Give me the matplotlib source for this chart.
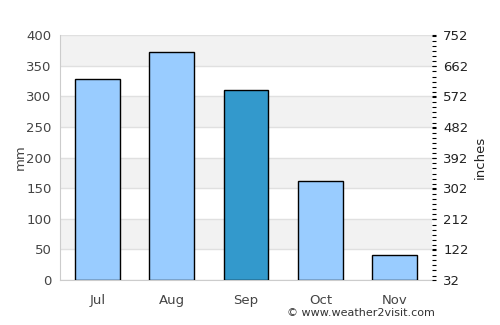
import matplotlib.pyplot as plt
from matplotlib.ticker import MultipleLocator

months = ['Jul', 'Aug', 'Sep', 'Oct', 'Nov']
rain_mm = [328, 372, 311, 161, 40]
highlight = 'Sep'
right_labels = [32, 122, 212, 302, 392, 482, 572, 662, 752]

light = '#99ccff'
dark = '#3399cc'

fig = plt.figure(figsize=(5, 3.25), dpi=100)
ax = fig.add_axes([0.12, 0.1385, 0.744, 0.7535])

# alternating bands + grid
for lo in range(0, 400, 50):
    if (lo // 50) % 2 == 1:
        ax.axhspan(lo, lo + 50, color='#f2f2f2', zorder=0, lw=0)
    ax.axhline(lo, color='#e0e0e0', lw=1, zorder=1)
ax.axhline(400, color='#e0e0e0', lw=1, zorder=1)

colors = [dark if m == highlight else light for m in months]
ax.bar(range(len(months)), rain_mm, width=0.6, color=colors,
       edgecolor='black', linewidth=1, zorder=3)

ax.set_xlim(-0.5, len(months) - 0.5)
ax.set_ylim(0, 400)
ax.set_yticks(range(0, 401, 50))
ax.set_xticks(range(len(months)))
ax.set_xticklabels(months)
ax.tick_params(axis='both', length=0, colors='#444444', labelsize=9.5)
ax.tick_params(axis='x', pad=10)
ax.tick_params(axis='y', pad=6)
for s in ['top', 'right']:
    ax.spines[s].set_visible(False)
for s in ['left', 'bottom']:
    ax.spines[s].set_color('#cccccc')
ax.set_ylabel('mm', color='#444444', fontsize=9.5, labelpad=0)

ax2 = ax.twinx()
ax2.set_ylim(32, 752)
ax2.set_yticks(right_labels)
ax2.yaxis.set_minor_locator(MultipleLocator(15))
ax2.tick_params(axis='y', which='major', length=3, width=0.8, colors='black',
                labelcolor='#222222', labelsize=9.5, pad=5)
ax2.tick_params(axis='y', which='minor', length=3, width=0.8, colors='black')
for s in ax2.spines.values():
    s.set_visible(False)
ax2.set_ylabel('inches', color='#222222', fontsize=9.5, labelpad=4)

fig.text(0.87, 0.02, '\u00a9 www.weather2visit.com', ha='right', va='bottom',
         fontsize=8, color='#333333')

fig.savefig('out.png', dpi=100)
